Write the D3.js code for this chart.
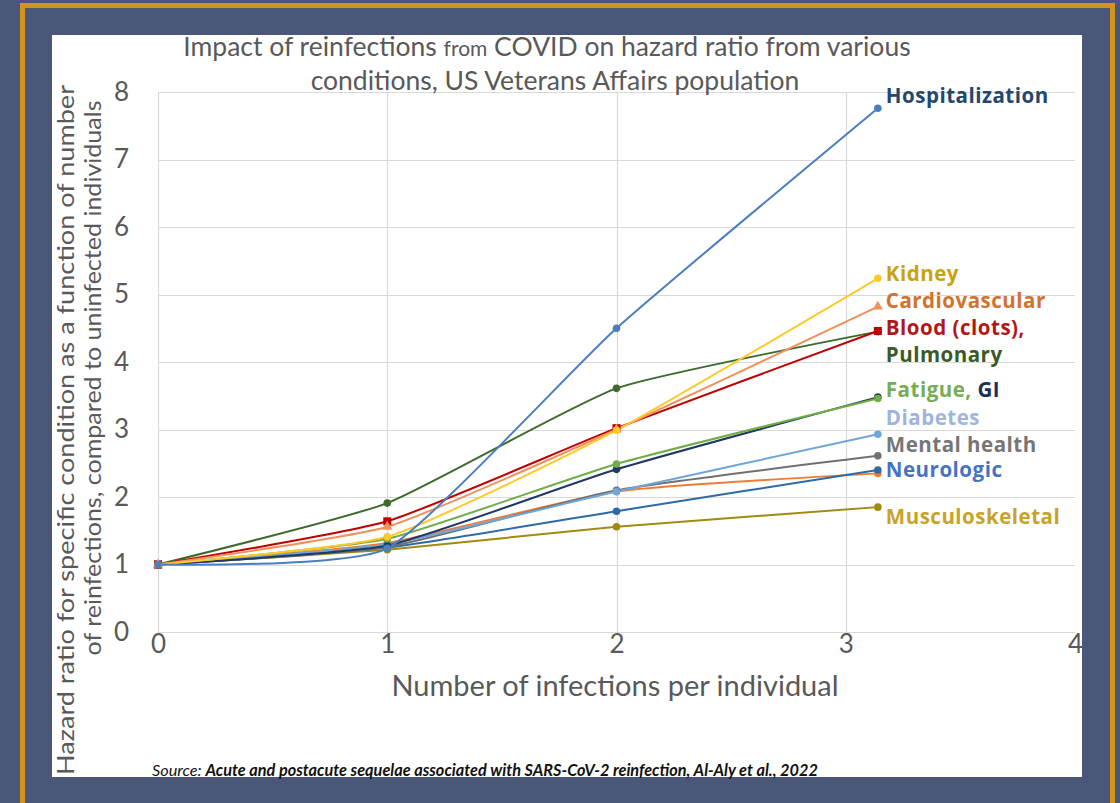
<!DOCTYPE html>
<html>
<head>
<meta charset="utf-8">
<script src="https://cdn.jsdelivr.net/npm/d3@7"></script>
<style>
  html, body { margin:0; padding:0; background:#4a5778; }
  svg { display:block; }
  text { font-family: Lato, "Open Sans", sans-serif; }
</style>
</head>
<body>
<div id="chart"></div>
<script>
// data
var xValues = [0, 1, 2, 3.14];

var seriesNames = ["Hospitalization", "Kidney", "Cardiovascular", "Blood (clots)", "Pulmonary",
    "Fatigue", "GI", "Diabetes", "Mental health", "Neurologic", "Other", "Musculoskeletal"];

var hospitalization = [1, 1.24, 4.50, 7.76];
var kidney          = [1, 1.41, 2.99, 5.24];
var cardiovascular  = [1, 1.56, 3.00, 4.82];
var bloodClots      = [1, 1.64, 3.02, 4.46];
var pulmonary       = [1, 1.91, 3.61, 4.45];
var fatigue         = [1, 1.38, 2.49, 3.46];
var gi              = [1, 1.28, 2.41, 3.48];
var diabetes        = [1, 1.30, 2.08, 2.93];
var mentalHealth    = [1, 1.26, 2.10, 2.61];
var neurologic      = [1, 1.25, 1.79, 2.40];
var other           = [1, 1.32, 2.08, 2.35];
var musculoskeletal = [1, 1.22, 1.56, 1.85];

var yTicks = [0, 1, 2, 3, 4, 5, 6, 7, 8];
var xTicks = [0, 1, 2, 3, 4];

var allValues = [hospitalization, kidney, cardiovascular, bloodClots, pulmonary, fatigue,
    gi, diabetes, mentalHealth, neurologic, other, musculoskeletal];

// styling per series
var lineColors = ["#4a7ec0", "#ffc92a", "#f0915a", "#c00000", "#3d6b2b", "#70ad47",
    "#203864", "#6fa5d8", "#707070", "#2e6aa6", "#ed7d31", "#a08a10"];
var markers = ["circle", "circle", "triangle", "square", "circle", "circle",
    "circle", "circle", "circle", "circle", "circle", "circle"];

// right-hand labels: [text pieces], value where the label sits
var labels = [
    { v: 7.94, parts: [["Hospitalization", "#24476b"]] },
    { v: 5.30, parts: [["Kidney", "#c9a20c"]] },
    { v: 4.90, parts: [["Cardiovascular", "#d2722e"]] },
    { v: 4.50, parts: [["Blood (clots),", "#b01818"]] },
    { v: 4.10, parts: [["Pulmonary", "#3a5a26"]] },
    { v: 3.59, parts: [["Fatigue, ", "#74ad52"], ["GI", "#1c2f57"]] },
    { v: 3.17, parts: [["Diabetes", "#9db5dc"]] },
    { v: 2.78, parts: [["Mental health", "#767676"]] },
    { v: 2.40, parts: [["Neurologic", "#4472c4"]] },
    { v: 1.70, parts: [["Musculoskeletal", "#c9a227"]] }
];

var W = 1120, H = 803;
var margin = { left:158, right:45, top:92, bottom:171 };
var w = W - margin.left - margin.right;
var h = H - margin.top - margin.bottom;

var svg = d3.select("#chart")
    .append("svg")
    .attr("width", W)
    .attr("height", H);

// outer frame
svg.append("rect")
    .attr("x", 0).attr("y", 0)
    .attr("width", W).attr("height", H)
    .attr("fill", "#4a5778");

svg.append("rect")
    .attr("x", 22.5).attr("y", 5.5)
    .attr("width", 1090).attr("height", 820)
    .attr("fill", "none")
    .attr("stroke", "#d4921f")
    .attr("stroke-width", 5);

svg.append("rect")
    .attr("x", 52).attr("y", 35)
    .attr("width", 1030).attr("height", 742)
    .attr("fill", "#ffffff");

var g = svg.append("g")
    .attr("transform", "translate(" + margin.left + "," + margin.top + ")");

var xScale = d3.scaleLinear().domain([0, 4]).range([0, w]);
var yScale = d3.scaleLinear().domain([0, 8]).range([h, 0]);

// gridlines
g.append("g")
    .attr("class", "grid y")
    .selectAll("line")
    .data(yTicks)
    .enter()
    .append("line")
    .attr("x1", 0).attr("x2", w)
    .attr("y1", function(d){ return Math.round(yScale(d)) + 0.5; })
    .attr("y2", function(d){ return Math.round(yScale(d)) + 0.5; })
    .attr("stroke", "#d9d9d9")
    .attr("stroke-width", 1.2);

g.append("g")
    .attr("class", "grid x")
    .selectAll("line")
    .data(xTicks.slice(0, 4))
    .enter()
    .append("line")
    .attr("y1", 0).attr("y2", h)
    .attr("x1", function(d){ return Math.round(xScale(d)) + 0.5; })
    .attr("x2", function(d){ return Math.round(xScale(d)) + 0.5; })
    .attr("stroke", "#d9d9d9")
    .attr("stroke-width", 1.2);

// axes (ticks only as text)
var xAxis = d3.axisBottom(xScale).tickValues(xTicks).tickSize(0).tickPadding(3).tickFormat(d3.format("d"));
var yAxis = d3.axisLeft(yScale).tickValues(yTicks).tickSize(0).tickPadding(29).tickFormat(d3.format("d"));

var xAxisGroup = g.append("g")
    .attr("class", "x axis")
    .attr("transform", "translate(0," + h + ")")
    .call(xAxis);
var yAxisGroup = g.append("g")
    .attr("class", "y axis")
    .call(yAxis);

[xAxisGroup, yAxisGroup].forEach(function(ax){
    ax.select(".domain").remove();
    ax.selectAll("text")
        .attr("font-size", 26)
        .attr("fill", "#595959")
        .style("font-family", "Lato, sans-serif");
});

// lines
var line = d3.line()
    .x(function(d){ return xScale(d[0]); })
    .y(function(d){ return yScale(d[1]); })
    .curve(d3.curveCardinal.tension(0.5));

var series = allValues.map(function(vals, i){
    return { name: seriesNames[i], color: lineColors[i], marker: markers[i],
        pts: vals.map(function(v, j){ return [xValues[j], v]; }) };
});

// draw in reverse so hospitalization etc. sit on top
var drawOrder = series.slice().reverse();

g.selectAll(".series")
    .data(drawOrder)
    .enter()
    .append("path")
    .attr("class", "series")
    .attr("d", function(d){ return line(d.pts); })
    .attr("fill", "none")
    .attr("stroke", function(d){ return d.color; })
    .attr("stroke-width", 2);

var mk = g.selectAll(".markers")
    .data(drawOrder)
    .enter()
    .append("g")
    .attr("class", "markers");

mk.each(function(s){
    var sel = d3.select(this);
    s.pts.forEach(function(p, j){
        var cx = xScale(p[0]), cy = yScale(p[1]);
        var type = (j === 0 && s.name === "Pulmonary") ? "square" : s.marker;
        if (type === "circle") {
            sel.append("circle").attr("cx", cx).attr("cy", cy).attr("r", 3.8).attr("fill", s.color);
        } else if (type === "square") {
            sel.append("rect").attr("x", cx - 4).attr("y", cy - 4).attr("width", 8).attr("height", 8).attr("fill", s.color);
        } else {
            sel.append("path")
                .attr("d", d3.symbol().type(d3.symbolTriangle).size(45)())
                .attr("transform", "translate(" + cx + "," + cy + ")")
                .attr("fill", s.color);
        }
    });
});

// right labels
var lab = g.selectAll(".lbl")
    .data(labels)
    .enter()
    .append("text")
    .attr("class", "lbl")
    .attr("x", xScale(xValues[3]) + 8)
    .attr("y", function(d){ return yScale(d.v); })
    .attr("dy", "0.35em")
    .attr("font-size", 20.5)
    .attr("letter-spacing", 0.5)
    .attr("font-weight", "bold")
    .style("font-family", "'Open Sans', sans-serif");

lab.each(function(d){
    var t = d3.select(this);
    d.parts.forEach(function(p){
        t.append("tspan").attr("fill", p[1]).text(p[0]);
    });
});

// title
var title = svg.append("text")
    .attr("x", 547)
    .attr("y", 56)
    .attr("text-anchor", "middle")
    .attr("font-size", 26.5)
    .attr("fill", "#595959");
title.append("tspan").text("Impact of reinfections ");
title.append("tspan").attr("font-size", 21).text("from");
title.append("tspan").text(" COVID on hazard ratio from various");

svg.append("text")
    .attr("x", 555)
    .attr("y", 90)
    .attr("text-anchor", "middle")
    .attr("font-size", 26.5)
    .attr("fill", "#595959")
    .text("conditions, US Veterans Affairs population");

// axis titles
svg.append("text")
    .attr("x", 615)
    .attr("y", 696)
    .attr("text-anchor", "middle")
    .attr("font-size", 29)
    .attr("fill", "#595959")
    .text("Number of infections per individual");

svg.append("text")
    .attr("transform", "translate(74,430) rotate(-90)")
    .attr("text-anchor", "middle")
    .attr("font-size", 23)
    .attr("textLength", 690)
    .attr("lengthAdjust", "spacingAndGlyphs")
    .attr("fill", "#595959")
    .text("Hazard ratio for specific condition as a function of number");

svg.append("text")
    .attr("transform", "translate(101,378) rotate(-90)")
    .attr("text-anchor", "middle")
    .attr("font-size", 23)
    .attr("textLength", 555)
    .attr("lengthAdjust", "spacingAndGlyphs")
    .attr("fill", "#595959")
    .text("of reinfections, compared to uninfected individuals");

// source
var src = svg.append("text")
    .attr("x", 152)
    .attr("y", 776)
    .attr("font-size", 16.3)
    .attr("font-style", "italic")
    .attr("fill", "#111");
src.append("tspan").text("Source: ");
src.append("tspan").attr("font-weight", "bold")
    .text("Acute and postacute sequelae associated with SARS-CoV-2 reinfection, Al-Aly et al., 2022");
</script>
</body>
</html>
